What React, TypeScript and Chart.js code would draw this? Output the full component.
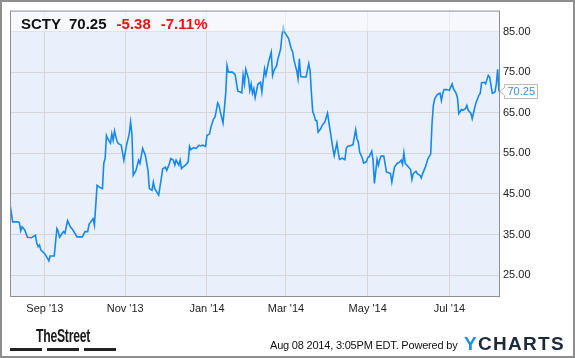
import React, { useEffect, useRef } from "react";
import { Chart, registerables } from "chart.js";

Chart.register(...registerables);

const ticker = "SCTY";
const lastPrice = "70.25";
const changeAbs = "-5.38";
const changePct = "-7.11%";
const stampText = "Aug 08 2014, 3:05PM EDT. Powered by";

// day offsets (calendar days from start of window) and closing prices
const days = [
  0, 2, 6, 7, 8, 9, 11, 13, 16, 19, 20, 21, 22, 23, 26, 28, 29, 30, 33, 35,
  36, 37, 39, 40, 41, 43, 45, 47, 50, 54, 56, 58, 59, 62, 63, 65, 67, 69, 70, 71,
  72, 73, 75, 76, 77, 78, 80, 81, 83, 85, 87, 89, 90, 91, 92, 94, 96, 97, 99, 101,
  103, 104, 106, 107, 108, 111, 113, 114, 116, 117, 119, 120, 122, 123, 124, 126, 127, 128, 129, 131,
  133, 134, 135, 137, 139, 141, 142, 144, 146, 147, 149, 150, 152, 153, 154, 155, 156, 157, 159, 160,
  161, 162, 163, 166, 168, 169, 170, 172, 173, 174, 175, 176, 178, 179, 180, 181, 182, 183, 185, 187,
  188, 189, 190, 191, 192, 193, 195, 196, 197, 199, 200, 202, 203, 204, 205, 207, 208, 210, 211, 212,
  213, 214, 215, 216, 217, 219, 221, 223, 224, 225, 226, 227, 228, 229, 230, 232, 233, 235, 237, 238,
  239, 240, 241, 242, 244, 245, 246, 248, 250, 251, 252, 255, 256, 258, 259, 260, 261, 263, 264, 266,
  267, 268, 269, 270, 271, 272, 274, 275, 276, 277, 279, 281, 284, 285, 287, 289, 291, 292, 293, 294,
  295, 297, 299, 300, 301, 303, 304, 306, 307, 308, 310, 311, 312, 314, 315, 316, 317, 319, 321, 322,
  323, 324, 326, 328, 330, 331, 333, 334, 335, 337, 338, 340, 341, 342, 344, 345, 347, 348, 350, 351,
  352, 354, 355, 357, 358, 360, 361, 362, 363, 364, 365,
];
const prices = [
  42.5, 38.1, 38.1, 37.9, 35.9, 36.9, 36.1, 34.3, 34.2, 34.8, 32.8, 32.0, 32.4, 31.2, 30.2, 29.1, 28.5, 29.7, 29.7, 36.4,
  35.7, 34.3, 35.3, 35.7, 35.3, 38.4, 36.9, 36.1, 34.4, 34.4, 35.7, 35.7, 37.5, 38.9, 37.3, 47.1, 46.6, 46.3, 52.5, 53.7,
  59.4, 58.6, 57.5, 59.8, 58.2, 60.5, 57.8, 57.4, 57.0, 53.3, 57.0, 59.8, 62.7, 59.8, 49.6, 50.8, 53.3, 52.5, 56.2, 54.5,
  50.8, 46.3, 45.9, 47.9, 46.3, 44.7, 49.0, 51.2, 51.6, 50.8, 52.5, 53.7, 53.3, 52.1, 53.3, 52.1, 53.3, 51.2, 51.6, 52.1,
  52.9, 56.7, 55.9, 56.4, 56.2, 57.0, 56.8, 57.0, 56.7, 59.4, 59.8, 61.5, 63.5, 63.9, 65.6, 67.4, 66.8, 65.2, 62.5, 66.0,
  69.7, 76.6, 75.0, 75.0, 74.4, 72.5, 70.3, 70.1, 69.9, 74.2, 72.1, 75.7, 73.4, 70.5, 72.1, 69.8, 70.9, 68.7, 72.0, 72.5,
  70.1, 73.0, 75.8, 74.2, 75.8, 77.5, 79.9, 74.2, 75.4, 76.6, 78.3, 80.7, 84.0, 86.1, 84.8, 83.8, 83.2, 80.7, 79.9, 77.9,
  76.6, 75.4, 73.4, 78.3, 73.9, 73.8, 73.8, 77.1, 75.4, 69.7, 65.2, 64.4, 63.1, 63.1, 60.2, 61.1, 61.9, 62.7, 64.9, 62.7,
  60.5, 58.4, 56.2, 54.4, 57.5, 55.3, 53.5, 53.8, 53.4, 56.2, 56.7, 57.0, 57.1, 60.8, 58.6, 57.8, 55.3, 53.8, 52.6, 52.9,
  53.9, 54.1, 54.8, 55.5, 53.3, 47.6, 53.5, 52.1, 53.5, 54.3, 54.3, 50.4, 50.0, 47.9, 51.6, 52.5, 52.9, 53.3, 52.3, 55.1,
  52.5, 51.8, 51.0, 48.6, 50.0, 50.6, 50.0, 49.6, 48.9, 50.0, 51.6, 52.6, 53.7, 54.8, 62.3, 66.8, 68.4, 69.5, 69.8, 68.0,
  69.7, 70.7, 70.7, 70.5, 72.1, 70.9, 69.8, 68.7, 64.8, 65.8, 65.6, 66.0, 66.8, 65.6, 64.9, 63.5, 66.4, 67.6, 69.3, 69.8,
  72.4, 72.5, 72.1, 74.2, 73.8, 69.8, 69.9, 70.1, 72.1, 75.7, 70.25,
];

const xTickDays = [26, 86, 147, 206, 267, 328];
const xTickLabels = ["Sep '13", "Nov '13", "Jan '14", "Mar '14", "May '14", "Jul '14"];
const yTickValues = [25, 35, 45, 55, 65, 75, 85];
const xMin = 0;
const xMax = 365;
const yMin = 19.84;
const yMax = 90.16;

const FONT = "'Liberation Sans', Arial, sans-serif";
const LINE_BLUE = "#1589ee";

const decorPlugin = {
  id: "decor",
  beforeDraw(chart: any) {
    const { ctx, chartArea: a } = chart;
    ctx.save();
    ctx.fillStyle = "#ffffff";
    ctx.fillRect(0, 0, chart.width, chart.height);
    ctx.fillStyle = "#eaf0fb";
    ctx.fillRect(a.left, a.top, a.right - a.left, a.bottom - a.top);
    ctx.restore();
  },
  afterDatasetsDraw(chart: any) {
    const { ctx, chartArea: a, scales } = chart;
    const yBand = scales.y.getPixelForValue(yTickValues[yTickValues.length - 1]);
    ctx.save();
    ctx.fillStyle = "rgba(255,255,255,0.55)";
    ctx.fillRect(a.left, a.top, a.right - a.left, yBand - a.top);
    ctx.strokeStyle = "#8e8e8e";
    ctx.lineWidth = 1;
    ctx.strokeRect(a.left + 0.5, a.top + 0.5, a.right - a.left, a.bottom - a.top);

    // last price callout
    const lastVal = prices[prices.length - 1];
    const yp = Math.round(scales.y.getPixelForValue(lastVal)) + 0.5;
    const tipX = a.right + 1;
    const bx = a.right + 5.5;
    const bw = 33;
    const bh = 14;
    ctx.beginPath();
    ctx.moveTo(tipX, yp);
    ctx.lineTo(bx, yp - 4);
    ctx.lineTo(bx, yp - bh / 2);
    ctx.lineTo(bx + bw, yp - bh / 2);
    ctx.lineTo(bx + bw, yp + bh / 2);
    ctx.lineTo(bx, yp + bh / 2);
    ctx.lineTo(bx, yp + 4);
    ctx.closePath();
    ctx.fillStyle = "#ffffff";
    ctx.fill();
    ctx.strokeStyle = "#b9b9b9";
    ctx.stroke();
    ctx.fillStyle = "#3a8ee6";
    ctx.font = `11px ${FONT}`;
    ctx.textBaseline = "middle";
    ctx.textAlign = "left";
    ctx.fillText(lastVal.toFixed(2), bx + 3, yp + 0.5);
    ctx.restore();
  },
};

export default function App() {
  const canvasRef = useRef<HTMLCanvasElement | null>(null);

  useEffect(() => {
    document.body.style.margin = "0";
    const canvas = canvasRef.current;
    if (!canvas) return;
    const chart = new Chart(canvas, {
      type: "line",
      data: {
        datasets: [
          {
            data: days.map((d, i) => ({ x: d, y: prices[i] })),
            borderColor: LINE_BLUE,
            borderWidth: 1.6,
            pointRadius: 0,
            tension: 0,
            fill: false,
          },
        ],
      },
      options: {
        animation: false,
        responsive: false,
        maintainAspectRatio: false,
        devicePixelRatio: 1,
        layout: { padding: { left: 10, top: 10, right: 0, bottom: 0 } },
        plugins: { legend: { display: false }, tooltip: { enabled: false } },
        scales: {
          x: {
            type: "linear",
            min: xMin,
            max: xMax,
            afterBuildTicks: (s: any) => {
              s.ticks = xTickDays.map((v) => ({ value: v }));
            },
            afterFit: (s: any) => {
              s.height = 62;
            },
            ticks: {
              autoSkip: false,
              maxRotation: 0,
              padding: 6,
              color: "#222222",
              font: { family: FONT, size: 11 },
              callback: (_v: any, i: number) => xTickLabels[i],
            },
            grid: { color: "#d6d6d6", drawTicks: false, lineWidth: 1 },
            border: { display: false },
          },
          y: {
            type: "linear",
            position: "right",
            min: yMin,
            max: yMax,
            afterBuildTicks: (s: any) => {
              s.ticks = yTickValues.map((v) => ({ value: v }));
            },
            afterFit: (s: any) => {
              s.width = 76;
            },
            ticks: {
              padding: 4,
              color: "#222222",
              font: { family: FONT, size: 11 },
              callback: (v: any) => Number(v).toFixed(2),
            },
            grid: { color: "#d6d6d6", drawTicks: false, lineWidth: 1 },
            border: { display: false },
          },
        },
      },
      plugins: [decorPlugin],
    });
    return () => chart.destroy();
  }, []);

  return (
    <div style={{ position: "relative", width: 575, height: 358, overflow: "hidden", fontFamily: FONT }}>
      <canvas ref={canvasRef} width={575} height={358} style={{ display: "block", width: 575, height: 358 }} />
      <div
        style={{
          position: "absolute",
          left: 21,
          top: 15,
          fontSize: 15,
          fontWeight: "bold",
          lineHeight: "17px",
          whiteSpace: "nowrap",
          color: "#111",
        }}
      >
        <span>{ticker}</span>
        <span style={{ marginLeft: 8 }}>{lastPrice}</span>
        <span style={{ marginLeft: 10, color: "#ee1111" }}>{changeAbs}</span>
        <span style={{ marginLeft: 10, color: "#ee1111" }}>{changePct}</span>
      </div>
      <div
        style={{
          position: "absolute",
          left: 36,
          top: 327,
          fontSize: 18,
          fontWeight: "bold",
          letterSpacing: -0.4,
          color: "#1a1a1a",
          lineHeight: "18px",
          whiteSpace: "nowrap",
          transform: "scaleX(0.68)",
          transformOrigin: "0 0",
        }}
      >
        TheStreet
      </div>
      {[10, 47, 84].map((l) => (
        <div key={l} style={{ position: "absolute", left: l, top: 348, width: 32, height: 3, background: "#222" }} />
      ))}
      <div
        style={{
          position: "absolute",
          left: 270,
          top: 339,
          fontSize: 11,
          letterSpacing: -0.2,
          color: "#111",
          lineHeight: "13px",
          whiteSpace: "nowrap",
        }}
      >
        {stampText}
      </div>
      <div
        style={{
          position: "absolute",
          left: 464,
          top: 334,
          fontSize: 19,
          fontWeight: "bold",
          letterSpacing: 1.3,
          lineHeight: "20px",
          whiteSpace: "nowrap",
          color: "#1c2a3a",
        }}
      >
        <span style={{ color: "#1e8fe8" }}>Y</span>CHARTS
      </div>
      <div
        style={{
          position: "absolute",
          left: 0,
          top: 0,
          width: 575,
          height: 358,
          boxSizing: "border-box",
          border: "2px solid #8e8e8e",
          pointerEvents: "none",
        }}
      />
    </div>
  );
}
